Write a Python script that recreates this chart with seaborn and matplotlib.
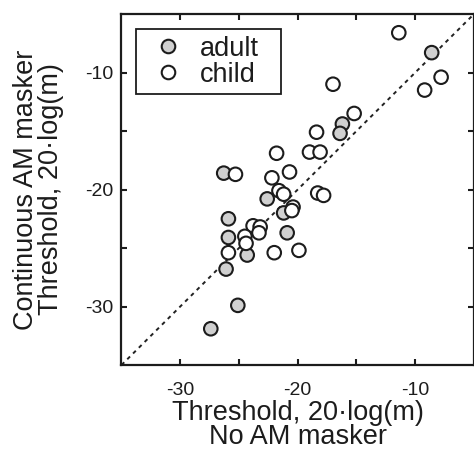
import numpy as np
import pandas as pd
import matplotlib
matplotlib.use('Agg')
import matplotlib.pyplot as plt
from matplotlib.offsetbox import DrawingArea
import seaborn as sns

# thresholds, 20*log(m): x = no AM masker, y = continuous AM masker
adult_x = [-8.6, -16.2, -16.4, -26.3, -22.6, -21.2, -25.9, -20.9, -25.9, -24.3, -26.1, -25.1, -27.4]
adult_y = [-8.3, -14.4, -15.2, -18.6, -20.8, -22.0, -22.5, -23.7, -24.1, -25.6, -26.8, -29.9, -31.9]

child_x = [-11.4, -7.8, -9.2, -17.0, -15.2, -18.4, -21.8, -19.0, -18.1, -25.3, -20.7, -22.2, -21.6,
           -21.2, -18.3, -17.8, -20.4, -20.5, -23.8, -23.2, -23.3, -24.5, -24.4, -25.9, -22.0, -19.9]
child_y = [-6.6, -10.4, -11.5, -11.0, -13.5, -15.1, -16.9, -16.8, -16.8, -18.7, -18.5, -19.0, -20.1,
           -20.4, -20.3, -20.5, -21.5, -21.8, -23.1, -23.2, -23.7, -24.0, -24.6, -25.4, -25.4, -25.2]

df = pd.DataFrame({
    'nomask': adult_x + child_x,
    'contmask': adult_y + child_y,
    'group': ['adult'] * len(adult_x) + ['child'] * len(child_x),
})

sns.set_style("ticks")
plt.rcParams['font.family'] = ['Liberation Sans', 'DejaVu Sans']

fig = plt.figure(figsize=(4.74, 4.66), dpi=100)
ax = fig.add_axes([0.2563, 0.2167, 0.7437, 0.7532])

ax.plot([-35, -5], [-35, -5], color='#222222', lw=1.4, dashes=(2, 2.2), zorder=1)

sns.scatterplot(data=df, x='nomask', y='contmask', hue='group',
                palette={'adult': '#d0d0d0', 'child': 'white'},
                edgecolor='#1c1c1c', linewidth=1.5, s=95, ax=ax, zorder=3)

ax.set_xlim(-35, -5)
ax.set_ylim(-35, -5)
ax.set_xticks([-30, -25, -20, -15, -10])
ax.set_xticklabels(['-30', '', '-20', '', '-10'])
ax.set_yticks([-30, -25, -20, -15, -10])
ax.set_yticklabels(['-30', '', '-20', '', '-10'])
ax.tick_params(direction='in', length=4.5, width=1.5, top=True, right=True,
               labelsize=14, color='#1c1c1c', labelcolor='#1c1c1c')
ax.tick_params(axis='x', pad=12)
ax.tick_params(axis='y', pad=6)
for sp in ax.spines.values():
    sp.set_linewidth(1.6)
    sp.set_color('#1c1c1c')

ax.set_xlabel('Threshold, 20\u00b7log(m)\nNo AM masker', fontsize=19.5, color='#1c1c1c',
              linespacing=0.88, labelpad=1)
ax.set_ylabel('Continuous AM masker\nThreshold, 20\u00b7log(m)', fontsize=19.5, color='#1c1c1c',
              linespacing=0.95, labelpad=15)

leg = ax.legend(loc='upper left', fontsize=19.5, frameon=True, fancybox=False,
                edgecolor='#1c1c1c', framealpha=1, borderpad=0.25, labelspacing=0.0,
                handlelength=1.85, handletextpad=0.25, borderaxespad=0.55)
leg.get_frame().set_linewidth(1.3)
for t in leg.get_texts():
    t.set_color('#1c1c1c')

# extra room on the right side of the legend box
for col in leg._legend_handle_box.get_children():
    for item in col.get_children():
        item.get_children().append(DrawingArea(6, 0))

fig.savefig('out.png', dpi=100)
